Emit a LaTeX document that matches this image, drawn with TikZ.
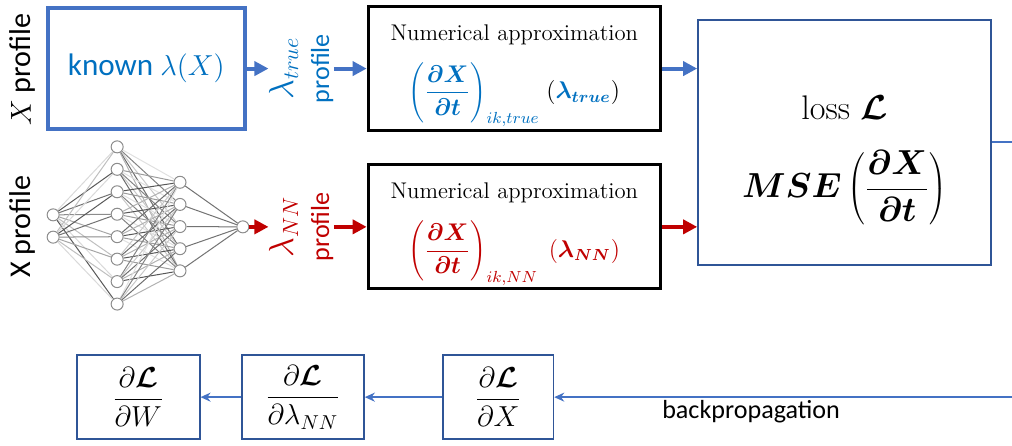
\documentclass[tikz,border=0pt]{standalone}
\usepackage{fontspec}
\setsansfont{Carlito}
\usepackage{bm}
\usetikzlibrary{arrows.meta, positioning, calc}
\definecolor{lineblue}{RGB}{68,114,196}
\definecolor{textblue}{RGB}{0,112,192}
\definecolor{boxblue}{RGB}{47,85,151}
\definecolor{darkred}{RGB}{192,0,0}
\newcommand{\fsz}[2]{\fontsize{#1}{#2}\selectfont}

\begin{document}
\begin{tikzpicture}[
  neuron/.style={circle, draw=black!45, fill=white, line width=0.5pt, minimum size=0.21cm, inner sep=0pt},
  thinbox/.style={draw=boxblue, line width=0.8pt, inner sep=0pt, align=center},
  numbox/.style={draw, line width=1.6pt, minimum width=5.11cm, minimum height=2.17cm, align=center, inner sep=0pt, font=\fsz{11.3}{14}},
  sidelabel/.style={rotate=90, inner sep=0pt, font=\sffamily\fsz{15}{18}},
  fat/.style={line width=2pt, -{Triangle[length=7pt,width=7pt]}},
  slim/.style={draw=lineblue, line width=1.1pt, -{Stealth[length=5pt,width=4.5pt]}}]
\useasboundingbox (0,0) rectangle (17.71,-7.79);

\node[sidelabel] (xprofA) at (0.40,-1.22) {$X$ profile};
\node[draw=lineblue, line width=2pt, minimum width=3.45cm, minimum height=2.12cm, text=textblue, font=\sffamily\fsz{15.5}{18}] (known) at (2.56,-1.2) {known $\lambda(X)$};
\node[sidelabel, text=textblue, font=\sffamily\fsz{13}{18}, align=center] (ltrue) at (5.27,-1.2) {{\fsz{16}{18}$\lambda_{true}$}\\profile};
\node[numbox] (numA) at (9.0,-1.2) {\rule{0pt}{15pt}Numerical approximation\\[8pt]
  {\fsz{12}{14}$\displaystyle {\color{textblue}\left(\frac{\bm{\partial X}}{\bm{\partial t}}\right)_{ik,true}}\;(\textcolor{textblue}{\bm{\lambda}_{\bm{true}}})$}};
\node[thinbox, minimum width=5.13cm, minimum height=4.29cm, font=\fsz{17}{20}] (loss) at (14.78,-2.49) {\rule{0pt}{30pt}loss $\bm{\mathcal{L}}$\\[14pt]
  {\fsz{16}{18}$\displaystyle \bm{MSE}\left(\frac{\bm{\partial X}}{\bm{\partial t}}\right)$}};

\draw[fat, lineblue] (known) -- (ltrue);
\draw[fat, lineblue] (ltrue) -- (numA);
\draw[fat, lineblue] (numA.east) -- (numA.east -| loss.west);

\node[sidelabel] (xprofB) at (0.40,-3.97) {X profile};
\foreach \n/\y in {1/-3.76, 2/-4.15}
  \node[neuron] (i\n) at (0.93,\y) {};
\foreach \n in {1,...,8}
  \node[neuron] (h\n) at (2.05,{-2.57-0.393*(\n-1)}) {};
\foreach \n in {1,...,5}
  \node[neuron] (g\n) at (3.15,{-3.19-0.3875*(\n-1)}) {};
\node[neuron] (o) at (4.25,-3.97) {};
\foreach \a in {1,2}
  \foreach \b in {1,...,8} {
    \pgfmathtruncatemacro\shade{mod(7*\a+5*\b,6)*10+15}
    \draw[black!\shade, line width=0.5pt] (i\a) -- (h\b);
  }
\foreach \a in {1,...,8}
  \foreach \b in {1,...,5} {
    \pgfmathtruncatemacro\shade{mod(3*\a+4*\b,7)*9+12}
    \draw[black!\shade, line width=0.5pt] (h\a) -- (g\b);
  }
\foreach \b in {1,...,5}
  \draw[black!55, line width=0.5pt] (g\b) -- (o);

\node[sidelabel, text=darkred, font=\sffamily\fsz{13}{18}, align=center] (lnn) at (5.27,-3.97) {{\fsz{16}{18}$\lambda_{NN}$}\\profile};
\node[numbox] (numB) at (9.0,-3.97) {\rule{0pt}{15pt}Numerical approximation\\[8pt]
  {\fsz{12}{14}\color{darkred}$\displaystyle \left(\frac{\bm{\partial X}}{\bm{\partial t}}\right)_{ik,NN}\;(\bm{\lambda}_{\bm{NN}})$}};
\draw[fat, darkred] (o) -- (lnn);
\draw[fat, darkred] (lnn) -- (numB);
\draw[fat, darkred] (numB.east) -- (numB.east -| loss.west);

\coordinate (lossout) at (17.71,-2.49);
\draw[lineblue, line width=1.1pt] (loss) -- (lossout);

\node[thinbox, minimum width=2.15cm, minimum height=1.47cm, font=\fsz{14}{16}] (dW) at (2.42,-6.95) {$\displaystyle\frac{\partial\bm{\mathcal{L}}}{\partial W}$};
\node[thinbox, minimum width=2.14cm, minimum height=1.47cm, font=\fsz{14}{16}] (dl) at (5.30,-6.95) {$\displaystyle\frac{\partial\bm{\mathcal{L}}}{\partial \lambda_{NN}}$};
\node[thinbox, minimum width=1.93cm, minimum height=1.47cm, font=\fsz{14}{16}] (dX) at (8.72,-6.95) {$\displaystyle\frac{\partial\bm{\mathcal{L}}}{\partial X}$};
\coordinate (bpin) at (17.71,-6.95);
\draw[slim] (bpin) -- node[pos=0.57, below=0pt, inner sep=1pt, font=\sffamily\fsz{13}{15}] (bplabel) {backpropagation} (dX);
\draw[slim] (dX) -- (dl);
\draw[slim] (dl) -- (dW);
\end{tikzpicture}
\end{document}
